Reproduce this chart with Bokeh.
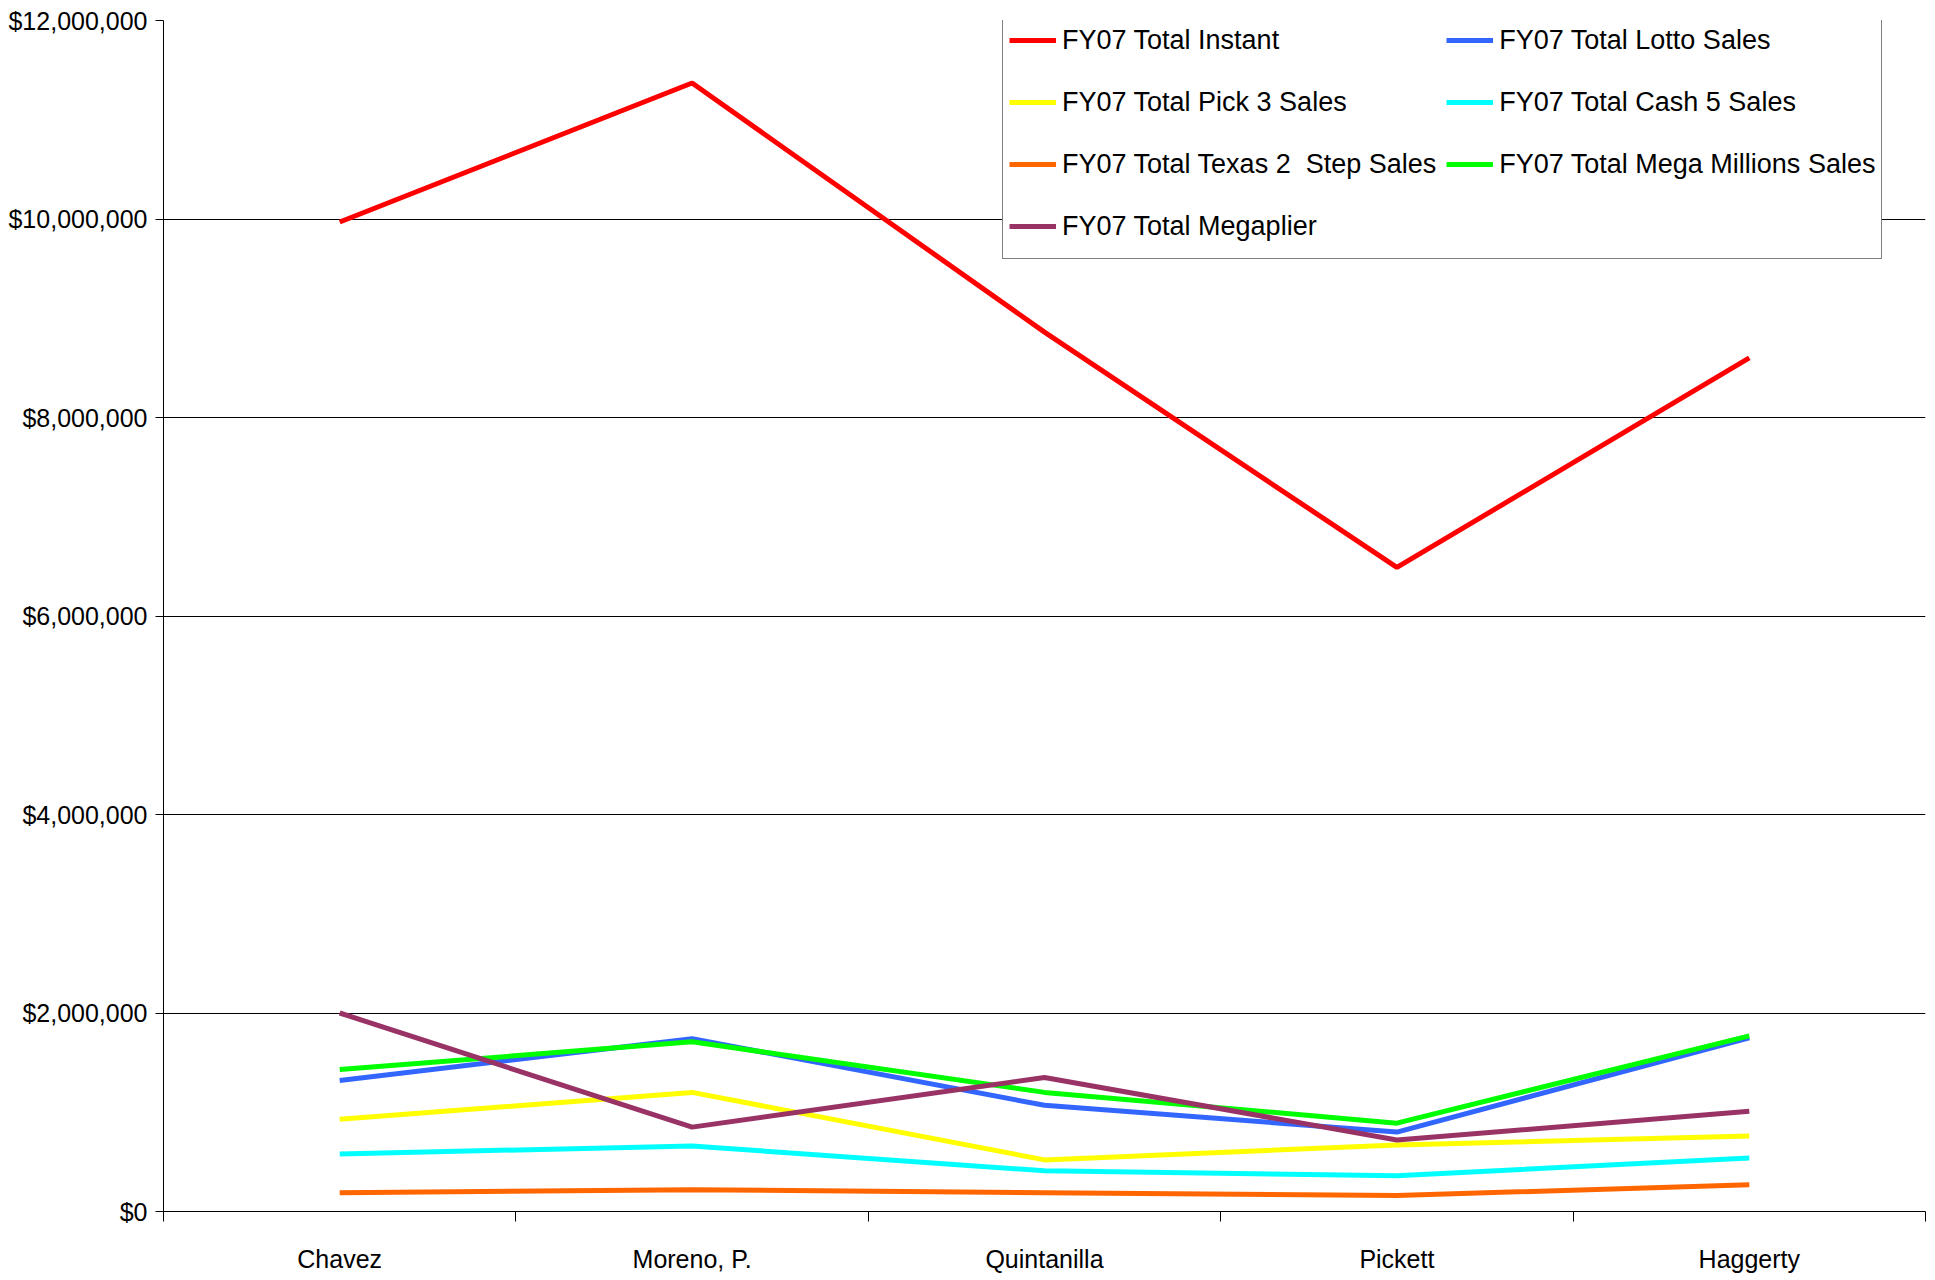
from bokeh.plotting import figure
from bokeh.models import (Range1d, FixedTicker, NumeralTickFormatter, Legend, LegendItem)
from bokeh.embed import file_html
from bokeh.resources import INLINE

# ---------------- data ----------------
categories = ["Chavez", "Moreno, P.", "Quintanilla", "Pickett", "Haggerty"]

instant      = [9970000, 11370000, 8860000, 6490000, 8600000]
lotto        = [1320000, 1740000, 1070000, 800000, 1750000]
pick3        = [930000, 1200000, 520000, 670000, 760000]
cash5        = [580000, 660000, 410000, 360000, 540000]
texas2step   = [190000, 220000, 190000, 160000, 270000]
megamillions = [1430000, 1710000, 1200000, 890000, 1770000]
megaplier    = [2000000, 850000, 1350000, 720000, 1010000]

series_names = ["FY07 Total Instant", "FY07 Total Lotto Sales",
                "FY07 Total Pick 3 Sales", "FY07 Total Cash 5 Sales",
                "FY07 Total Texas 2  Step Sales", "FY07 Total Mega Millions Sales",
                "FY07 Total Megaplier"]
series_values = [instant, lotto, pick3, cash5, texas2step, megamillions, megaplier]
series_colors = ["#FF0000", "#3366FF", "#FFFF00", "#00FFFF",
                 "#FF6600", "#00FF00", "#993366"]

y_ticks = [0, 2000000, 4000000, 6000000, 8000000, 10000000, 12000000]

FONT = "'Liberation Sans', Arial, sans-serif"

# ---------------- figure ----------------
p = figure(width=1928, height=1276, output_backend="svg", toolbar_location=None,
           x_range=Range1d(0, len(categories)), y_range=Range1d(0, 12000000),
           min_border_left=163, min_border_right=3, min_border_top=20,
           min_border_bottom=65)
p.outline_line_color = None
p.background_fill_color = "white"
p.border_fill_color = "white"

x_pos = [i + 0.5 for i in range(len(categories))]

renderers = []
for name, vals, col in zip(series_names, series_values, series_colors):
    r = p.line(x_pos, vals, line_color=col, line_width=5)
    renderers.append(r)

# x axis: labels at category centres, ticks at category boundaries
p.xaxis.ticker = FixedTicker(ticks=x_pos, minor_ticks=list(range(len(categories) + 1)))
p.xaxis.major_label_overrides = {x: c for x, c in zip(x_pos, categories)}
p.xaxis.major_tick_out = 0
p.xaxis.major_tick_in = 0
p.xaxis.minor_tick_out = 10
p.xaxis.minor_tick_in = 0
p.xaxis.minor_tick_line_color = "black"
p.xaxis.axis_line_color = "black"
p.xaxis.axis_line_width = 1
p.xaxis.major_label_standoff = 23
p.xaxis.major_label_text_font = FONT
p.xaxis.major_label_text_font_size = "25px"
p.xaxis.major_label_text_color = "black"
p.xgrid.grid_line_color = None

# y axis
p.yaxis.ticker = FixedTicker(ticks=y_ticks)
p.yaxis.formatter = NumeralTickFormatter(format="$0,0")
p.yaxis.major_tick_out = 8
p.yaxis.major_tick_in = 0
p.yaxis.minor_tick_line_color = None
p.yaxis.axis_line_color = "black"
p.yaxis.major_tick_line_color = "black"
p.yaxis.major_label_standoff = 8
p.yaxis.major_label_text_font = FONT
p.yaxis.major_label_text_font_size = "25px"
p.yaxis.major_label_text_color = "black"
p.ygrid.grid_line_color = "black"
p.ygrid.grid_line_width = 1

# legend
items = [LegendItem(label=n, renderers=[r]) for n, r in zip(series_names, renderers)]
legend = Legend(items=items, location=(839, 952), orientation="horizontal", ncols=2,
                label_text_font=FONT, label_text_font_size="27px",
                label_text_color="black",
                glyph_width=47, glyph_height=52, label_height=52,
                label_standoff=6, spacing=10, padding=6, margin=0,
                border_line_color="black", border_line_width=1,
                background_fill_color="white", background_fill_alpha=1.0)
p.add_layout(legend, "center")

open("out.html", "w").write(file_html(p, INLINE))
